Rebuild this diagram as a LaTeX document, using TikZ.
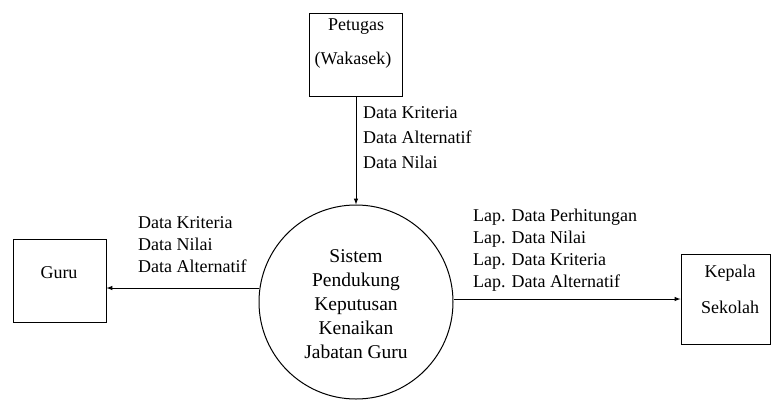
\documentclass[tikz,border=0pt]{standalone}
\usepackage{fontspec}
\newfontfamily\tnr{Liberation Serif}
\begin{document}
\begin{tikzpicture}[x=1pt,y=-1pt,
  ent/.style={draw, line width=1pt, inner sep=0pt},
  txt/.style={font=\tnr\fontsize{18}{25}\selectfont},
  flow/.style={draw, line width=1pt, -latex}]
\useasboundingbox (0,0) rectangle (771,400);
% entities
\node[ent, minimum width=93pt, minimum height=83pt] (pet) at (355.5,54.5) {};
\node[txt] (pett) at (356,27) {Petugas};
\node[txt] (petw) at (353,60) {(Wakasek)};
\node[ent, minimum width=93pt, minimum height=83pt] (guru) at (59.5,280.5) {};
\node[txt] (gurut) at (59,273) {Guru};
\node[ent, minimum width=89pt, minimum height=90pt] (kep) at (725.5,299) {};
\node[txt] (kept) at (730,273) {Kepala};
\node[txt] (keps) at (730,307) {Sekolah};
% process
\node[draw, line width=1pt, circle, minimum size=194pt, inner sep=0pt] (sys) at (356,302) {};
\node[txt, align=center, font=\tnr\fontsize{19.5}{24}\selectfont] (syst) at (356,304)
  {Sistem\\Pendukung\\Keputusan\\Kenaikan\\Jabatan Guru};
% flows
\draw[flow] (pet.south -| sys.north) -- (sys.north);
\coordinate (gy) at (0,288);
\coordinate (ky) at (0,299);
\draw[flow] (sys.west |- gy) -- (guru.east |- gy);
\draw[flow] (sys.east |- ky) -- (kep.west |- ky);
% labels
\node[txt, anchor=west, align=left, inner sep=0pt] (l1) at (363,138) {Data Kriteria\\Data Alternatif\\Data Nilai};
\node[txt, anchor=west, align=left, inner sep=0pt, font=\tnr\fontsize{18}{22}\selectfont] (l2) at (138,245) {Data Kriteria\\Data Nilai\\Data Alternatif};
\node[txt, anchor=west, align=left, inner sep=0pt, font=\tnr\fontsize{18}{22}\selectfont] (l3) at (473,250) {Lap. Data Perhitungan\\Lap. Data Nilai\\Lap. Data Kriteria\\Lap. Data Alternatif};
\end{tikzpicture}
\end{document}
